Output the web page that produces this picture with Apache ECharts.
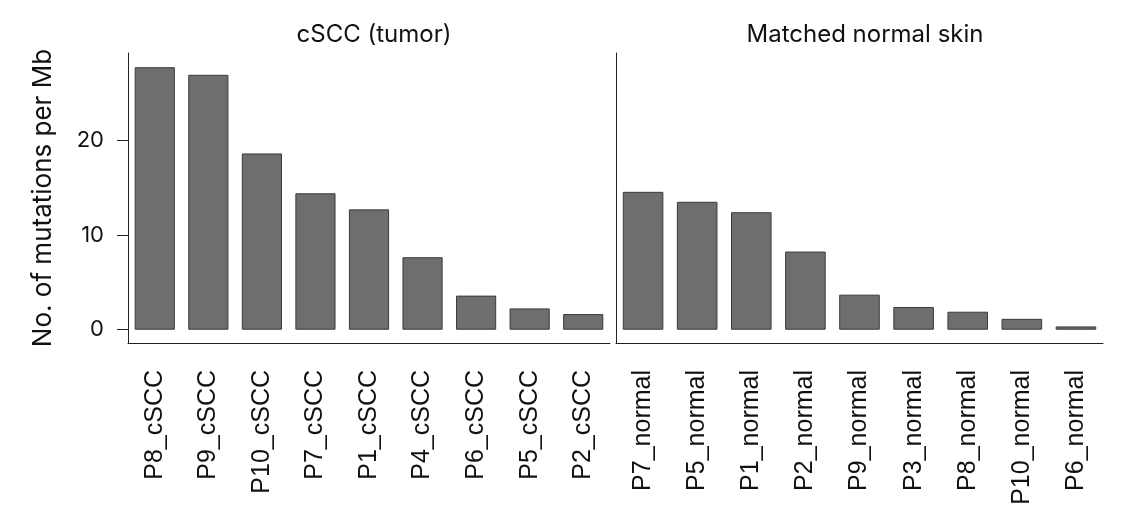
<!DOCTYPE html>
<html>
<head>
<meta charset="utf-8">
<script src="https://cdn.jsdelivr.net/npm/echarts@6/dist/echarts.min.js"></script>
<style>
    html, body { margin: 0; padding: 0; background: #fff; }
    #main { width: 1132px; height: 515px; }
</style>
</head>
<body>
<div id="main"></div>
<script>
// 数据
var tumorSamples = ['P8_cSCC', 'P9_cSCC', 'P10_cSCC', 'P7_cSCC', 'P1_cSCC', 'P4_cSCC', 'P6_cSCC', 'P5_cSCC', 'P2_cSCC'];
var tumorValues = [27.7, 26.9, 18.6, 14.4, 12.7, 7.65, 3.6, 2.25, 1.65];
var normalSamples = ['P7_normal', 'P5_normal', 'P1_normal', 'P2_normal', 'P9_normal', 'P3_normal', 'P8_normal', 'P10_normal', 'P6_normal'];
var normalValues = [14.55, 13.5, 12.4, 8.25, 3.7, 2.4, 1.9, 1.15, 0.35];
var yTicks = [0, 10, 20];

var chart;
initChar();

function initChar() {
    chart = echarts.init(document.getElementById('main'));
    var labelFont = '"Liberation Sans", Arial, sans-serif';
    var titleFont = 'Inter, "Noto Sans", sans-serif';

    function xAxisFor(idx, cats) {
        return {
            type: 'category',
            gridIndex: idx,
            data: cats,
            axisLine: {onZero: false, lineStyle: {color: '#222', width: 1}},
            axisTick: {alignWithLabel: true, length: 13, lineStyle: {color: '#222'}},
            axisLabel: {
                rotate: 90,
                interval: 0,
                margin: 27,
                fontSize: 25,
                color: '#111',
                fontFamily: labelFont
            }
        };
    }

    function yAxisFor(idx, showLabels) {
        return {
            type: 'value',
            gridIndex: idx,
            min: -1.4,
            max: 29.2,
            splitLine: {show: false},
            axisLine: {show: true, lineStyle: {color: '#222', width: 1}},
            axisTick: {show: showLabels, length: 11, customValues: yTicks, lineStyle: {color: '#222'}},
            axisLabel: {
                show: showLabels,
                customValues: yTicks,
                margin: 24,
                fontSize: 22,
                color: '#111',
                fontFamily: titleFont
            },
            name: showLabels ? 'No. of mutations per Mb' : '',
            nameLocation: 'middle',
            nameGap: 72,
            nameTextStyle: {fontSize: 26, color: '#111', fontFamily: titleFont}
        };
    }

    var option = {
        backgroundColor: '#fff',
        animation: false,
        title: [
            {text: 'cSCC (tumor)', left: 369, top: 18, textAlign: 'center',
                textStyle: {fontSize: 24, fontWeight: 'normal', color: '#111', fontFamily: titleFont}},
            {text: 'Matched normal skin', left: 860, top: 18, textAlign: 'center',
                textStyle: {fontSize: 24, fontWeight: 'normal', color: '#111', fontFamily: titleFont}}
        ],
        grid: [
            {left: 128, right: 522, top: 53, bottom: 172},
            {left: 616, right: 29, top: 53, bottom: 172}
        ],
        xAxis: [xAxisFor(0, tumorSamples), xAxisFor(1, normalSamples)],
        yAxis: [yAxisFor(0, true), yAxisFor(1, false)],
        series: [
            {
                name: 'tumor',
                type: 'bar',
                xAxisIndex: 0,
                yAxisIndex: 0,
                barWidth: '75%',
                data: tumorValues,
                itemStyle: {color: '#6e6e6e', borderColor: '#3a3a3a', borderWidth: 1}
            },
            {
                name: 'normal',
                type: 'bar',
                xAxisIndex: 1,
                yAxisIndex: 1,
                barWidth: '75%',
                data: normalValues,
                itemStyle: {color: '#6e6e6e', borderColor: '#3a3a3a', borderWidth: 1}
            }
        ]
    };
    chart.setOption(option);
}
</script>
</body>
</html>
